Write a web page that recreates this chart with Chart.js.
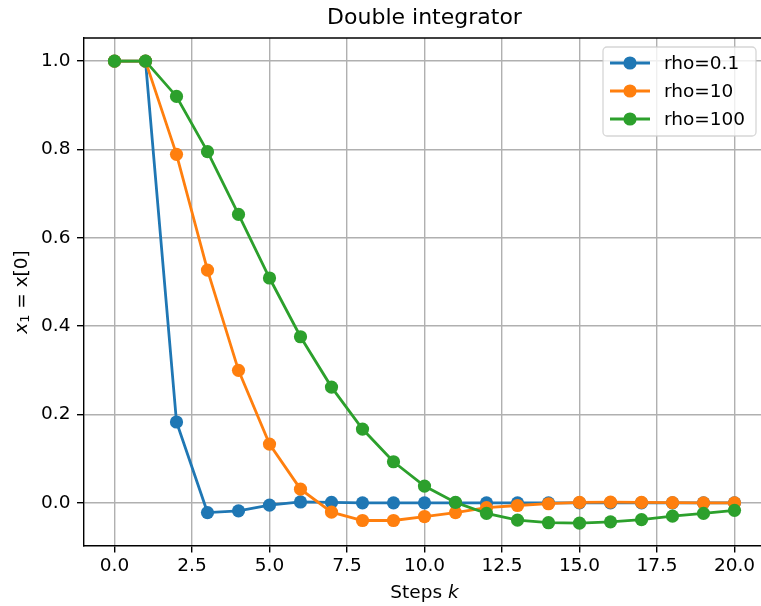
<!DOCTYPE html>
<html>
<head>
<meta charset="utf-8">
<script src="https://cdn.jsdelivr.net/npm/chart.js@4.4.0/dist/chart.umd.min.js"></script>
<style>
  html, body { margin: 0; padding: 0; background: #fff; overflow: hidden; }
  #wrap { width: 775px; height: 606px; }
</style>
</head>
<body>
<div id="wrap"><canvas id="chart" width="775" height="606"></canvas></div>
<script>
// data
const steps = [0, 1, 2, 3, 4, 5, 6, 7, 8, 9, 10, 11, 12, 13, 14, 15, 16, 17, 18, 19, 20];
const rho01 = [1.0, 1.0, 0.183, -0.022, -0.018, -0.005, 0.002, 0.001, 0.0, 0.0, 0.0, 0.0, 0.0, 0.0, 0.0, 0.0, 0.0, 0.0, 0.0, 0.0, 0.0];
const rho10 = [1.0, 1.0, 0.789, 0.527, 0.300, 0.133, 0.031, -0.021, -0.040, -0.040, -0.031, -0.022, -0.011, -0.006, -0.002, 0.001, 0.0015, 0.001, 0.0005, 0.0, 0.0];
const rho100 = [1.0, 1.0, 0.920, 0.795, 0.653, 0.509, 0.376, 0.262, 0.167, 0.093, 0.038, 0.001, -0.024, -0.039, -0.045, -0.046, -0.043, -0.038, -0.030, -0.024, -0.017];
const seriesNames = ['rho=0.1', 'rho=10', 'rho=100'];
const xTicks = [0, 2.5, 5, 7.5, 10, 12.5, 15, 17.5, 20];
const yTicks = [0, 0.2, 0.4, 0.6, 0.8, 1.0];

const colors = ['#1f77b4', '#ff7f0e', '#2ca02c'];
const FONT = 'DejaVu Sans';
const MARK = 6.6;

function toPoints(ys) {
    return steps.map((x, i) => ({ x: x, y: ys[i] }));
}

function makeSet(i, ys) {
    return {
        label: seriesNames[i],
        data: toPoints(ys),
        borderColor: colors[i],
        backgroundColor: colors[i],
        borderWidth: 2.8,
        pointRadius: MARK,
        pointHoverRadius: MARK,
        pointBorderWidth: 0,
        tension: 0,
        order: 2 - i
    };
}

// top spine, axis titles and the legend box
const extras = {
    id: 'extras',
    afterDraw(chart) {
        const c = chart.ctx;
        const a = chart.chartArea;
        c.save();
        c.strokeStyle = '#000';
        c.lineWidth = 1.4;
        c.beginPath();
        c.moveTo(a.left, a.top);
        c.lineTo(a.right, a.top);
        c.stroke();

        // x label
        c.fillStyle = '#000';
        c.textBaseline = 'middle';
        const p1 = 'Steps ';
        c.font = `18.5px "${FONT}"`;
        const w1 = c.measureText(p1).width;
        c.font = `italic 18.5px "${FONT}"`;
        const w2 = c.measureText('k').width;
        let x0 = (a.left + a.right) / 2 - (w1 + w2) / 2;
        c.textAlign = 'left';
        c.font = `18.5px "${FONT}"`;
        c.fillText(p1, x0, 593);
        c.font = `italic 18.5px "${FONT}"`;
        c.fillText('k', x0 + w1, 593);

        // y label
        c.save();
        c.translate(22, (a.top + a.bottom) / 2);
        c.rotate(-Math.PI / 2);
        c.font = `italic 18.5px "${FONT}"`;
        const wx = c.measureText('x').width;
        c.font = `13px "${FONT}"`;
        const ws = c.measureText('1').width;
        c.font = `18.5px "${FONT}"`;
        const rest = ' = x[0]';
        const wr = c.measureText(rest).width;
        let s = -(wx + ws + wr) / 2;
        c.font = `italic 18.5px "${FONT}"`;
        c.fillText('x', s, 0);
        c.font = `13px "${FONT}"`;
        c.fillText('1', s + wx, 4);
        c.font = `18.5px "${FONT}"`;
        c.fillText(rest, s + wx + ws, 0);
        c.restore();

        // legend
        const bx = 603, by = 47, bw = 153, bh = 89, r = 4;
        c.beginPath();
        c.moveTo(bx + r, by);
        c.arcTo(bx + bw, by, bx + bw, by + bh, r);
        c.arcTo(bx + bw, by + bh, bx, by + bh, r);
        c.arcTo(bx, by + bh, bx, by, r);
        c.arcTo(bx, by, bx + bw, by, r);
        c.closePath();
        c.fillStyle = 'rgba(255,255,255,0.8)';
        c.fill();
        c.strokeStyle = 'rgba(204,204,204,0.8)';
        c.lineWidth = 1.3;
        c.stroke();

        seriesNames.forEach((name, i) => {
            const y = 63 + i * 28;
            c.strokeStyle = colors[i];
            c.lineWidth = 2.8;
            c.beginPath();
            c.moveTo(610, y);
            c.lineTo(650, y);
            c.stroke();
            c.fillStyle = colors[i];
            c.beginPath();
            c.arc(630, y, MARK, 0, Math.PI * 2);
            c.fill();
            c.fillStyle = '#000';
            c.font = `18.5px "${FONT}"`;
            c.textAlign = 'left';
            c.fillText(name, 664, y + 1);
        });
        c.restore();
    }
};

const ctx = document.getElementById('chart').getContext('2d');
const chart = new Chart(ctx, {
    type: 'line',
    data: {
        datasets: [makeSet(0, rho01), makeSet(1, rho10), makeSet(2, rho100)]
    },
    options: {
        responsive: false,
        animation: false,
        layout: { padding: { top: 0, right: 9.5, left: 0, bottom: 0 } },
        scales: {
            x: {
                type: 'linear',
                min: -1,
                max: 21,
                afterBuildTicks: (scale) => { scale.ticks = xTicks.map(v => ({ value: v })); },
                afterFit: (scale) => { scale.height = 60; },
                ticks: {
                    autoSkip: false,
                    maxRotation: 0,
                    color: '#000',
                    padding: 3,
                    font: { family: FONT, size: 18.5 },
                    callback: (v) => v.toFixed(1)
                },
                grid: { color: '#b0b0b0', lineWidth: 1.4, tickColor: '#000', tickLength: 6.5, tickWidth: 1.4 },
                border: { color: '#000', width: 1.4 }
            },
            y: {
                min: -0.0977,
                max: 1.0523,
                afterBuildTicks: (scale) => { scale.ticks = yTicks.map(v => ({ value: v })); },
                afterFit: (scale) => { scale.width = 83.5; },
                ticks: {
                    color: '#000',
                    padding: 6.5,
                    font: { family: FONT, size: 18.5 },
                    callback: (v) => v.toFixed(1)
                },
                grid: { color: '#b0b0b0', lineWidth: 1.4, tickColor: '#000', tickLength: 6.5, tickWidth: 1.4 },
                border: { color: '#000', width: 1.4 }
            }
        },
        plugins: {
            legend: { display: false },
            tooltip: { enabled: false },
            title: {
                display: true,
                text: 'Double integrator',
                color: '#000',
                fullSize: false,
                font: { family: FONT, size: 22, weight: 'normal' },
                padding: { top: 5, bottom: 6.6 }
            }
        }
    },
    plugins: [extras]
});
</script>
</body>
</html>
